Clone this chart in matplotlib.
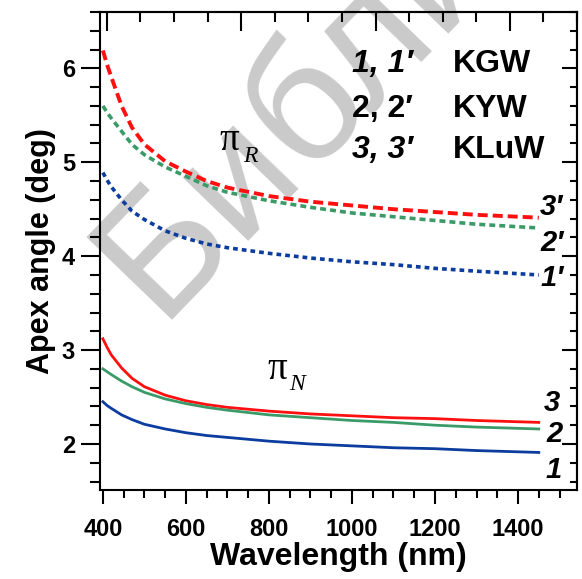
import numpy as np
import matplotlib
matplotlib.use("Agg")
import matplotlib.pyplot as plt
from matplotlib.ticker import MultipleLocator, FixedLocator, NullFormatter

plt.rcParams['font.family'] = ['Liberation Sans', 'DejaVu Sans']
plt.rcParams['font.weight'] = 'bold'
plt.rcParams['axes.labelweight'] = 'bold'
plt.rcParams['lines.scale_dashes'] = False

wl = [400, 410, 420, 445, 470, 500, 550, 600, 650, 700, 800, 900, 1000, 1100, 1200, 1300, 1450]

# pi_R (dashed) curves
kgw_r = [4.89, 4.81, 4.74, 4.60, 4.48, 4.39, 4.27, 4.19, 4.13, 4.09, 4.03, 3.98, 3.94, 3.91, 3.87, 3.84, 3.80]
kyw_r = [5.60, 5.53, 5.47, 5.33, 5.19, 5.08, 4.95, 4.85, 4.75, 4.68, 4.59, 4.52, 4.46, 4.42, 4.38, 4.34, 4.30]
kluw_r = [6.19, 6.04, 5.91, 5.60, 5.37, 5.19, 5.01, 4.90, 4.80, 4.73, 4.64, 4.58, 4.54, 4.50, 4.47, 4.44, 4.41]

# pi_N (solid) curves
kgw_n = [2.45, 2.41, 2.38, 2.31, 2.26, 2.21, 2.16, 2.12, 2.09, 2.07, 2.03, 2.00, 1.98, 1.96, 1.95, 1.93, 1.91]
kyw_n = [2.80, 2.77, 2.74, 2.67, 2.61, 2.55, 2.48, 2.43, 2.39, 2.36, 2.31, 2.28, 2.25, 2.23, 2.20, 2.18, 2.16]
kluw_n = [3.12, 3.03, 2.95, 2.81, 2.70, 2.61, 2.52, 2.46, 2.42, 2.39, 2.35, 2.32, 2.30, 2.28, 2.27, 2.25, 2.23]

red = '#ff1010'
green = '#3a9b68'
blue = '#0b3c9e'

fig = plt.figure(figsize=(5.82, 5.79), dpi=100)
ax = fig.add_axes([0.1718, 0.1537, 0.8196, 0.8256])
ax.set_facecolor('none')

# watermark behind everything
fig.text(0.272, 0.448, 'Библиотека', rotation=46, rotation_mode='anchor',
         fontsize=124, color='#cacaca', fontweight='normal', ha='left', va='baseline',
         zorder=-1)

ax.plot(wl, kluw_r, color=red, lw=2.8, dashes=(7.2, 3.6))
ax.plot(wl, kyw_r, color=green, lw=2.6, dashes=(4.3, 2.9))
ax.plot(wl, kgw_r, color=blue, lw=2.6, dashes=(3.4, 2.9))
ax.plot(wl, kluw_n, color=red, lw=2.0)
ax.plot(wl, kyw_n, color=green, lw=2.0)
ax.plot(wl, kgw_n, color=blue, lw=2.0)

for s in ax.spines.values():
    s.set_linewidth(1.5)

ax.xaxis.set_minor_locator(MultipleLocator(50))
ax.yaxis.set_major_locator(MultipleLocator(1))
ax.yaxis.set_minor_locator(MultipleLocator(0.2))
ax.tick_params(axis='x', which='major', direction='out', length=10, width=1.5, pad=10, labelsize=17)
ax.tick_params(axis='x', which='minor', direction='out', length=6, width=1.5)
ax.tick_params(axis='y', which='major', direction='out', length=14, width=1.5, pad=4, labelsize=17)
ax.tick_params(axis='y', which='minor', direction='out', length=7, width=1.5)
ax.set_xticks([400, 600, 800, 1000, 1200, 1400, 1600])
ax.set_xticklabels(['400', '600', '800', '1000', '1200', '1400', ''], fontweight='bold')
for lab in ax.get_yticklabels():
    lab.set_fontweight('bold')
ax.set_xlim(393, 1542)
ax.set_ylim(1.51, 6.60)

# top axis: unlabeled ticks, inward
top_ticks = np.linspace(409.6, 1542, 15)
sec_x = ax.secondary_xaxis('top')
sec_x.xaxis.set_major_locator(FixedLocator(top_ticks[::4]))
sec_x.xaxis.set_minor_locator(FixedLocator(top_ticks))
sec_x.xaxis.set_major_formatter(NullFormatter())
sec_x.tick_params(which='major', direction='in', length=14, width=1.5)
sec_x.tick_params(which='minor', direction='in', length=7, width=1.5)
sec_x.spines['top'].set_linewidth(1.5)

# right axis: mirrored ticks, inward
sec_y = ax.secondary_yaxis('right')
sec_y.yaxis.set_major_locator(MultipleLocator(1))
sec_y.yaxis.set_minor_locator(MultipleLocator(0.2))
sec_y.yaxis.set_major_formatter(NullFormatter())
sec_y.tick_params(which='major', direction='in', length=11, width=1.5)
sec_y.tick_params(which='minor', direction='in', length=5, width=1.5)
sec_y.spines['right'].set_linewidth(1.5)

ax.set_xlabel('Wavelength (nm)', fontsize=23, fontweight='bold', labelpad=1)
ax.set_ylabel('Apex angle (deg)', fontsize=22, fontweight='bold', labelpad=4)

# legend-like labels
tk = dict(transform=ax.transAxes, fontsize=23, fontweight='bold')
ax.text(0.655, 0.874, '1, 1′', ha='right', style='italic', **tk)
ax.text(0.655, 0.780, '2, 2′', ha='right', **tk)
ax.text(0.655, 0.694, '3, 3′', ha='right', style='italic', **tk)
ax.text(0.740, 0.874, 'KGW', ha='left', **tk)
ax.text(0.740, 0.780, 'KYW', ha='left', **tk)
ax.text(0.740, 0.694, 'KLuW', ha='left', **tk)

# curve end labels
ek = dict(transform=ax.transAxes, fontsize=21, fontweight='bold', style='italic', va='center', ha='left')
ax.text(0.923, 0.592, '3′', **ek)
ax.text(0.923, 0.517, '2′', **ek)
ax.text(0.923, 0.443, '1′', **ek)
ax.text(0.930, 0.182, '3', **ek)
ax.text(0.935, 0.117, '2', **ek)
ax.text(0.935, 0.042, '1', **ek)

# pi labels
pk = dict(transform=ax.transAxes, family='Liberation Serif', fontweight='normal')
ax.text(0.250, 0.711, 'π', fontsize=28, **pk)
ax.text(0.300, 0.686, 'R', fontsize=17, style='italic', **pk)
ax.text(0.350, 0.232, 'π', fontsize=28, **pk)
ax.text(0.396, 0.209, 'N', fontsize=17, style='italic', **pk)

fig.savefig('out.png', dpi=100)
